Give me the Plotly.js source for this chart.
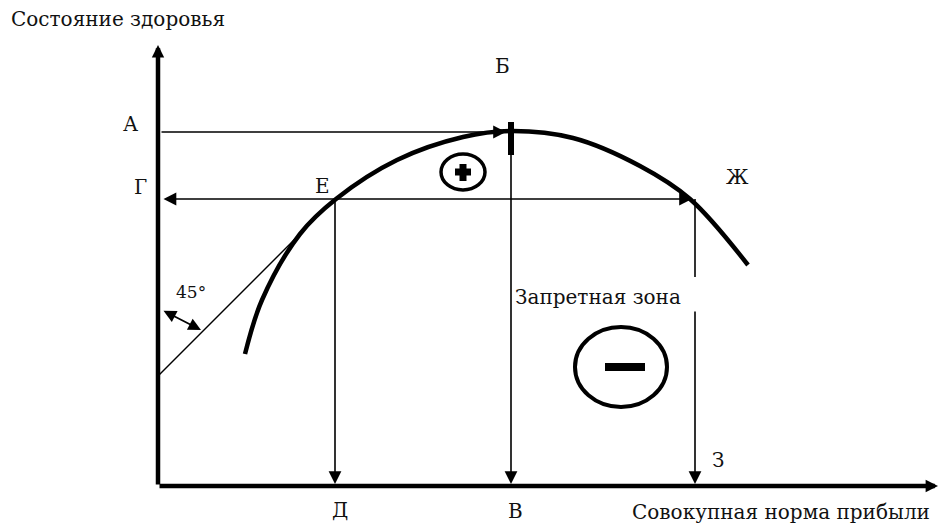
<!DOCTYPE html>
<html>
<head>
<meta charset="utf-8">
<script src="https://cdn.plot.ly/plotly-3.0.1.min.js"></script>
<style>html,body{margin:0;padding:0;background:#fff;}#chart{width:940px;height:525px;}</style>
</head>
<body>
<div id="chart"></div>
<script>
// Curve of health state vs. total profit rate (diagram coordinates)
const curveX = [245, 262, 300, 336, 397, 463, 511, 573, 640, 690, 748];
const curveY = [354, 300, 234, 199, 160, 137, 131, 138, 166, 199, 265];

// Key points of the diagram
const pointNames = ["origin", "A", "B", "G", "E", "Zh", "D", "V", "Z"];
const pointX = [158, 158, 511, 158, 335, 695, 335, 511, 695];
const pointY = [486, 132, 131, 199, 199, 199, 486, 486, 486];

// Text labels
const labelText = ["Состояние здоровья", "А", "Б", "Г", "Е", "Ж", "Запретная зона", "З", "Д", "В", "Совокупная норма прибыли", "45°"];
const labelX = [9, 130, 502, 140, 322, 737, 513, 718, 340, 515, 630, 191];
const labelY = [19, 124, 66, 187, 186, 177, 297, 460, 510, 511, 512, 292];
const labelAnchor = ["left", "center", "center", "center", "center", "center", "left", "center", "center", "center", "left", "center"];

const P = {};
pointNames.forEach((n, i) => P[n] = [pointX[i], pointY[i]]);

const font = {family: "DejaVu Serif", size: 20, color: "#111"};

const annotations = [];
function arrow(tail, head, w, s, both) {
  annotations.push({x: head[0], y: head[1], ax: tail[0], ay: tail[1], xref: "x", yref: "y", axref: "x", ayref: "y",
    text: "", showarrow: true, arrowhead: 2, startarrowhead: 2, arrowside: both ? "end+start" : "end",
    arrowwidth: w, arrowsize: s, startarrowsize: s, arrowcolor: "#000"});
}
// axes
arrow(P.origin, [158, 45], 4.5, 0.55);
arrow(P.origin, [938, 486], 4.5, 0.55);
// A -> peak
arrow([160, P.A[1]], [506, P.A[1]], 1.6, 1.6);
// Г line, both ways
arrow([162, P.G[1]], [692, P.G[1]], 1.6, 1.6, true);
// verticals
arrow(P.E, [P.D[0], 484], 1.6, 1.6);
arrow(P.B, [P.V[0], 484], 1.6, 1.6);
arrow([P.Zh[0], 310], [P.Z[0], 484], 1.6, 1.6);
// 45° double arrow
arrow([162, 310], [201, 330], 1.8, 1.4, true);

labelText.forEach((t, i) => {
  annotations.push({x: labelX[i], y: labelY[i], xref: "x", yref: "y", text: t, showarrow: false,
    xanchor: labelAnchor[i], yanchor: "middle", font: (i === 11 ? {family: font.family, size: 17, color: font.color} : font)});
});

const shapes = [
  // tangent line at 45°
  {type: "line", x0: 158, y0: 376, x1: 305, y1: 229, line: {color: "#000", width: 1.4}},
  // upper part of Ж vertical
  {type: "line", x0: P.Zh[0], y0: P.Zh[1], x1: P.Zh[0], y1: 277, line: {color: "#000", width: 1.6}},
  // thick mark at the peak
  {type: "line", x0: 511, y0: 122, x1: 511, y1: 155, line: {color: "#000", width: 6}},
  // plus circle
  {type: "circle", x0: 441, y0: 154, x1: 485, y1: 190, line: {color: "#000", width: 3.5}},
  {type: "line", x0: 455, y0: 172, x1: 471, y1: 172, line: {color: "#000", width: 7}},
  {type: "line", x0: 463, y0: 164, x1: 463, y1: 181, line: {color: "#000", width: 7}},
  // minus circle
  {type: "circle", x0: 575, y0: 327, x1: 667, y1: 407, line: {color: "#000", width: 4}},
  {type: "line", x0: 605, y0: 367, x1: 645, y1: 367, line: {color: "#000", width: 8}}
];

const traces = [{x: curveX, y: curveY, type: "scatter", mode: "lines", line: {color: "#000", width: 4.5, shape: "spline", smoothing: 1}, hoverinfo: "skip"}];

Plotly.newPlot("chart", traces, {
  width: 940, height: 525, margin: {l: 0, r: 0, t: 0, b: 0},
  paper_bgcolor: "#fff", plot_bgcolor: "#fff", showlegend: false,
  font: {family: "DejaVu Serif"},
  xaxis: {range: [0, 940], visible: false, fixedrange: true},
  yaxis: {range: [525, 0], visible: false, fixedrange: true},
  shapes: shapes, annotations: annotations
}, {staticPlot: true});
</script>
</body>
</html>
